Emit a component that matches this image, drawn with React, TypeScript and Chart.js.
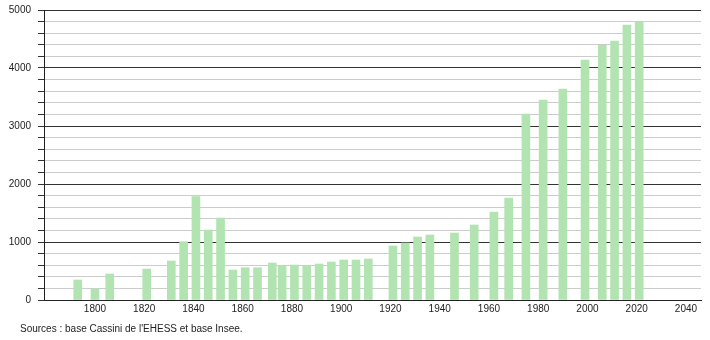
import React, { useEffect, useRef } from "react";
import { Chart, registerables } from "chart.js";

Chart.register(...registerables);

const years = [
  1793, 1800, 1806, 1821, 1831, 1836, 1841, 1846, 1851, 1856, 1861, 1866, 1872,
  1876, 1881, 1886, 1891, 1896, 1901, 1906, 1911, 1921, 1926, 1931, 1936, 1946,
  1954, 1962, 1968, 1975, 1982, 1990, 1999, 2006, 2011, 2016, 2021,
];
const population = [
  345, 190, 448, 534, 672, 1005, 1781, 1207, 1414, 517, 557, 557, 638,
  586, 603, 580, 621, 655, 690, 690, 707, 931, 983, 1086, 1121, 1155,
  1293, 1517, 1759, 3207, 3448, 3638, 4138, 4391, 4466, 4741, 4787,
];
const xTickLabels = [1800, 1820, 1840, 1860, 1880, 1900, 1920, 1940, 1960, 1980, 2000, 2020, 2040];
const yTickLabels = [0, 1000, 2000, 3000, 4000, 5000];
const sourceText = "Sources : base Cassini de l'EHESS et base Insee.";

const FONT = '"Liberation Sans", Arial, sans-serif';

export default function App() {
  const ref = useRef<HTMLCanvasElement | null>(null);

  useEffect(() => {
    if (!ref.current) return;
    const footer = {
      id: "footer",
      afterDraw(chart: any) {
        const c = chart.ctx;
        c.save();
        c.font = `10px ${FONT}`;
        c.fillStyle = "#222";
        c.textAlign = "left";
        c.textBaseline = "middle";
        c.fillText(sourceText, 20, 329);
        c.restore();
      },
    };
    const chart = new Chart(ref.current, {
      type: "bar",
      data: {
        datasets: [
          {
            data: years.map((y, i) => ({ x: y, y: population[i] })),
            backgroundColor: "rgb(178,228,178)",
            barThickness: 8,
            borderWidth: 0,
          },
        ],
      },
      options: {
        responsive: false,
        animation: false,
        devicePixelRatio: 1,
        layout: { padding: { top: 10, right: 9, left: 0, bottom: 0 } },
        plugins: { legend: { display: false }, tooltip: { enabled: false } },
        scales: {
          x: {
            type: "linear",
            offset: false,
            min: 1779.3,
            max: 2046.1,
            grid: { display: false, drawTicks: false },
            border: { display: true, color: "#222", width: 1 },
            afterBuildTicks: (s: any) => {
              s.ticks = xTickLabels.map((v) => ({ value: v }));
            },
            afterFit: (s: any) => {
              s.height = 40;
              s.paddingLeft = 0;
              s.paddingRight = 0;
            },
            ticks: {
              padding: 3,
              autoSkip: false,
              maxRotation: 0,
              color: "#222",
              font: { family: FONT, size: 10 },
              callback: (v: any) => String(v),
            },
          },
          y: {
            min: 0,
            max: 5000,
            grid: {
              color: (ctx: any) => (ctx.tick && ctx.tick.value % 1000 === 0 ? "#333" : "#cccccc"),
              tickColor: "#333",
              tickLength: 6,
              lineWidth: 1,
            },
            border: { display: true, color: "#222", width: 1 },
            afterBuildTicks: (s: any) => {
              const t: any[] = [];
              for (let v = 0; v <= 5000; v += 200) t.push({ value: v });
              s.ticks = t;
            },
            afterFit: (s: any) => {
              s.width = 44;
              s.paddingTop = 0;
              s.paddingBottom = 0;
            },
            ticks: {
              padding: 7,
              autoSkip: false,
              color: "#222",
              font: { family: FONT, size: 10 },
              callback: (v: any) => (yTickLabels.includes(v) ? String(v) : ""),
            },
          },
        },
      },
      plugins: [footer],
    });
    return () => chart.destroy();
  }, []);

  return (
    <div style={{ position: "absolute", left: 0, top: 0, width: 710, height: 340, background: "#fff" }}>
      <canvas ref={ref} width={710} height={340} />
    </div>
  );
}
